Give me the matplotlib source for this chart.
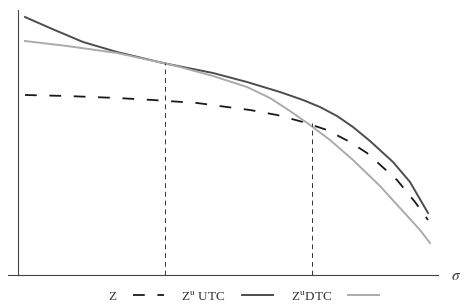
import matplotlib
matplotlib.use('Agg')
import matplotlib.pyplot as plt

plt.rcParams['font.family'] = ['Liberation Serif', 'DejaVu Serif']
plt.rcParams['mathtext.fontset'] = 'stix'

# curves (sigma, Z) in arbitrary units
sigma_utc = [7, 32, 65, 99, 145, 195, 229, 262, 285, 302, 319, 335, 352, 375, 392, 410]
z_utc = [258, 247, 233, 223, 212, 202, 193, 183, 175, 168, 159, 148, 134, 113, 93, 62]

sigma_dtc = [7, 49, 99, 145, 162, 195, 229, 252, 272, 292, 312, 335, 362, 382, 402, 412]
z_dtc = [234, 229, 222, 212, 208, 199, 188, 177, 164, 150, 135, 115, 89, 67, 45, 32]

sigma_z = [7, 49, 99, 135, 179, 209, 232, 259, 285, 309, 332, 349, 379, 397, 410]
z_z = [180, 179, 177, 175, 172, 168, 165, 160, 153, 145, 133, 122, 95, 73, 55]

# the two crossing points marked with vertical lines
cross_sigma = [147, 294]
cross_z = [212, 152]

labels = ['Z', 'Z$^{\\mathrm{u}}$ UTC', 'Z$^{\\mathrm{u}}$DTC']

fig = plt.figure(figsize=(4.66, 3.08), dpi=100)
ax = fig.add_axes([8 / 466, 33 / 308, 430 / 466, 265 / 308])

l_z, = ax.plot(sigma_z, z_z, color='#1a1a1a', lw=1.3, dashes=(6.5, 7))
l_utc, = ax.plot(sigma_utc, z_utc, color='#4d4d4d', lw=1.4)
l_dtc, = ax.plot(sigma_dtc, z_dtc, color='#ababab', lw=1.4)

for s, z in zip(cross_sigma, cross_z):
    ax.plot([s, s], [0, z], color='#333333', lw=0.7, dashes=(5, 4))

ax.set_xlim(-10, 420)
ax.set_ylim(0, 265)
for side in ['top', 'right']:
    ax.spines[side].set_visible(False)
ax.spines['left'].set_position(('data', 0))
ax.spines['left'].set_color('#444444')
ax.spines['bottom'].set_color('#444444')
ax.set_xticks([])
ax.set_yticks([])

fig.text(456 / 466, 1 - 277 / 308, '$\\sigma$', fontsize=11, ha='center', va='center', color='#333333')

fig.legend([l_z, l_utc, l_dtc], labels, loc='center', bbox_to_anchor=(244 / 466, 1 - 296 / 308),
           ncol=3, frameon=False, markerfirst=False, fontsize=9.5, handlelength=2.4,
           handletextpad=1.2, columnspacing=1.3, labelcolor='#333333')

fig.savefig('out.png', dpi=100)
